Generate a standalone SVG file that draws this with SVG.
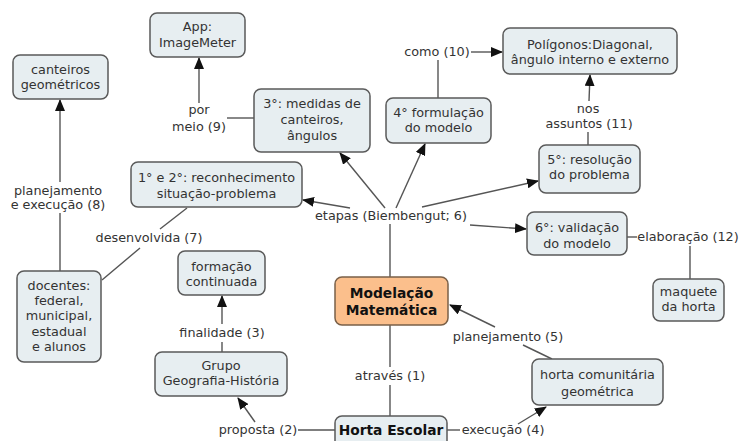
<svg xmlns="http://www.w3.org/2000/svg" width="740" height="441" viewBox="0 0 740 441">
<defs>
<marker id="arr" markerUnits="userSpaceOnUse" markerWidth="12" markerHeight="10" viewBox="0 0 12 10" refX="11" refY="5" orient="auto">
<path d="M0,0 L12,5 L0,10 Z" fill="#111"/>
</marker>
<style>
.n rect{fill:#e7eef1;stroke:#5a5a5a;stroke-width:1.5}
.o rect{fill:#fbbf8c;stroke:#7a6048;stroke-width:1.5}
text{font-family:"DejaVu Sans","Liberation Sans",sans-serif;font-size:12.8px;fill:#333;text-anchor:middle}
.b{font-weight:bold;font-size:13.8px;fill:#111}
#connectors line{stroke:#555;stroke-width:1.4;fill:none}
#connectors .a{marker-end:url(#arr)}
</style>
</defs>
<rect width="740" height="441" fill="#fff"/>
<g id="connectors">
<line x1="227" y1="118" x2="254" y2="118"/>
<line class="a" x1="199" y1="103" x2="199" y2="58"/>
<line class="a" x1="60" y1="182" x2="60" y2="100"/>
<line x1="60" y1="213" x2="60" y2="271"/>
<line x1="102" y1="280" x2="140" y2="248"/>
<line x1="160" y1="229" x2="187" y2="208"/>
<line x1="222" y1="352" x2="222" y2="342"/>
<line class="a" x1="222" y1="324" x2="222" y2="296"/>
<line x1="298" y1="430" x2="335" y2="430"/>
<line class="a" x1="255" y1="422" x2="238" y2="398"/>
<line x1="390" y1="325" x2="390" y2="367"/>
<line x1="390" y1="385" x2="390" y2="416"/>
<line x1="447" y1="430" x2="460" y2="430"/>
<line class="a" x1="518" y1="424" x2="546" y2="407"/>
<line x1="552" y1="359" x2="523" y2="345"/>
<line class="a" x1="495" y1="327" x2="450" y2="305"/>
<line x1="390" y1="277" x2="390" y2="224"/>
<line class="a" x1="350" y1="208" x2="303" y2="200"/>
<line class="a" x1="385" y1="208" x2="340" y2="153"/>
<line class="a" x1="396" y1="208" x2="425" y2="144"/>
<line class="a" x1="422" y1="207" x2="538" y2="181"/>
<line class="a" x1="470" y1="225" x2="526" y2="229"/>
<line x1="438" y1="98" x2="438" y2="60"/>
<line class="a" x1="471" y1="52" x2="502" y2="52"/>
<line x1="588" y1="145" x2="588" y2="132"/>
<line class="a" x1="589" y1="101" x2="590" y2="75"/>
<line x1="627" y1="237" x2="637" y2="237"/>
<line x1="690" y1="246" x2="690" y2="279"/>
</g>
<g id="labels">
<text x="199" y="114">por</text>
<text x="199" y="131">meio (9)</text>
<text x="58" y="195">planejamento</text>
<text x="58" y="209">e execução (8)</text>
<text x="149" y="242">desenvolvida (7)</text>
<text x="222" y="337">finalidade (3)</text>
<text x="258" y="434">proposta (2)</text>
<text x="390" y="380">através (1)</text>
<text x="503" y="434">execução (4)</text>
<text x="508" y="341">planejamento (5)</text>
<text x="391" y="220">etapas (Biembengut; 6)</text>
<text x="437" y="56">como (10)</text>
<text x="588" y="113">nos</text>
<text x="589" y="128">assuntos (11)</text>
<text x="688" y="241">elaboração (12)</text>
</g>
<g id="app" class="n"><rect x="150" y="13" width="95" height="44" rx="7"/><text x="197.5" y="31">App:</text><text x="197.5" y="47">ImageMeter</text></g>
<g id="canteiros" class="n"><rect x="13" y="55" width="95" height="44" rx="7"/><text x="60.5" y="74">canteiros</text><text x="60.5" y="89">geométricos</text></g>
<g id="etapa3" class="n"><rect x="254" y="89" width="116" height="63" rx="7"/><text x="312" y="108">3°: medidas de</text><text x="312" y="124">canteiros,</text><text x="312" y="140">ângulos</text></g>
<g id="etapa12" class="n"><rect x="131" y="162" width="171" height="45" rx="7"/><text x="216.5" y="182">1° e 2°: reconhecimento</text><text x="216.5" y="198">situação-problema</text></g>
<g id="etapa4" class="n"><rect x="386" y="98" width="105" height="45" rx="7"/><text x="438.5" y="117">4° formulação</text><text x="438.5" y="132">do modelo</text></g>
<g id="poligonos" class="n"><rect x="503" y="28" width="174" height="46" rx="7"/><text x="590" y="49">Polígonos:Diagonal,</text><text x="590" y="64">ângulo interno e externo</text></g>
<g id="etapa5" class="n"><rect x="539" y="145" width="101" height="48" rx="7"/><text x="589.5" y="164">5°: resolução</text><text x="589.5" y="179">do problema</text></g>
<g id="etapa6" class="n"><rect x="527" y="212" width="100" height="43" rx="7"/><text x="577" y="232">6°: validação</text><text x="577" y="248">do modelo</text></g>
<g id="maquete" class="n"><rect x="653" y="279" width="71" height="42" rx="7"/><text x="688.5" y="296">maquete</text><text x="688.5" y="311">da horta</text></g>
<g id="modelacao" class="o"><rect x="335" y="277" width="113" height="48" rx="7"/><text class="b" x="391.5" y="298">Modelação</text><text class="b" x="391.5" y="315">Matemática</text></g>
<g id="hortacom" class="n"><rect x="532" y="359" width="131" height="46" rx="7"/><text x="597.5" y="379">horta comunitária</text><text x="597.5" y="396">geométrica</text></g>
<g id="hortaesc" class="n"><rect x="335" y="416" width="112" height="32" rx="7"/><text class="b" x="391" y="435">Horta Escolar</text></g>
<g id="grupo" class="n"><rect x="155" y="352" width="132" height="44" rx="7"/><text x="221" y="370">Grupo</text><text x="221" y="385">Geografia-História</text></g>
<g id="formacao" class="n"><rect x="178" y="251" width="87" height="44" rx="7"/><text x="221.5" y="271">formação</text><text x="221.5" y="286">continuada</text></g>
<g id="docentes" class="n"><rect x="17" y="271" width="84" height="91" rx="7"/><text x="59" y="290">docentes:</text><text x="59" y="305">federal,</text><text x="59" y="320">municipal,</text><text x="59" y="336">estadual</text><text x="59" y="351">e alunos</text></g>
</svg>
